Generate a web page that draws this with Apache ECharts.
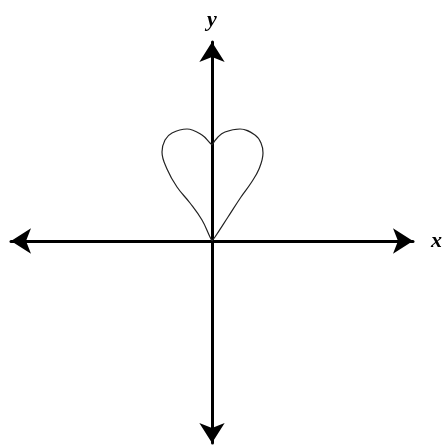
<!DOCTYPE html>
<html>
<head>
<meta charset="utf-8" />
<script src="https://cdn.jsdelivr.net/npm/echarts@6/dist/echarts.min.js"></script>
<style>
  html, body { margin: 0; padding: 0; background: #fff; }
  #main { width: 448px; height: 447px; }
</style>
</head>
<body>
<div id="main"></div>
<script>
// heart outline (origin at the axes crossing, y up)
// right half: from origin up to the top cusp
var rightHalf = [
  [0, 0], [3, 4], [16, 24], [29, 44], [39, 58], [47, 72],
  [51, 88], [49, 98], [43, 106], [28, 112], [13, 109], [6, 104], [0, 96]
];
// left half: from origin up to the top cusp
var leftHalf = [
  [0, 0], [-2, 4], [-10, 21], [-22, 38], [-35, 54], [-45, 72],
  [-50, 89], [-47, 101], [-40, 108], [-25, 112], [-10, 106], [-2, 98], [0, 96]
];
var axisNames = ['x', 'y'];

var chart = echarts.init(document.getElementById('main'));

var axisCommon = {
  type: 'value',
  axisLine: {
    onZero: true,
    symbol: ['arrow', 'arrow'],
    symbolSize: [19, 20],
    lineStyle: { color: '#000', width: 3 }
  },
  axisTick: { show: false },
  axisLabel: { show: false },
  splitLine: { show: false },
  nameLocation: 'end',
  nameTextStyle: {
    fontFamily: 'Liberation Serif',
    fontStyle: 'italic',
    fontWeight: 'bold',
    fontSize: 22,
    color: '#000'
  }
};

function heartSeries(pts) {
  return {
    type: 'line',
    data: pts,
    smooth: 0.4,
    symbol: 'none',
    lineStyle: { color: '#222', width: 1.2 },
    z: 1
  };
}

chart.setOption({
  animation: false,
  grid: { left: 11, right: 35, top: 42, bottom: 4 },
  xAxis: Object.assign({}, axisCommon, {
    min: -201, max: 201,
    name: axisNames[0],
    nameGap: 18
  }),
  yAxis: Object.assign({}, axisCommon, {
    min: -202, max: 199,
    name: axisNames[1],
    nameGap: 11
  }),
  series: [heartSeries(rightHalf), heartSeries(leftHalf)]
});
</script>
</body>
</html>
